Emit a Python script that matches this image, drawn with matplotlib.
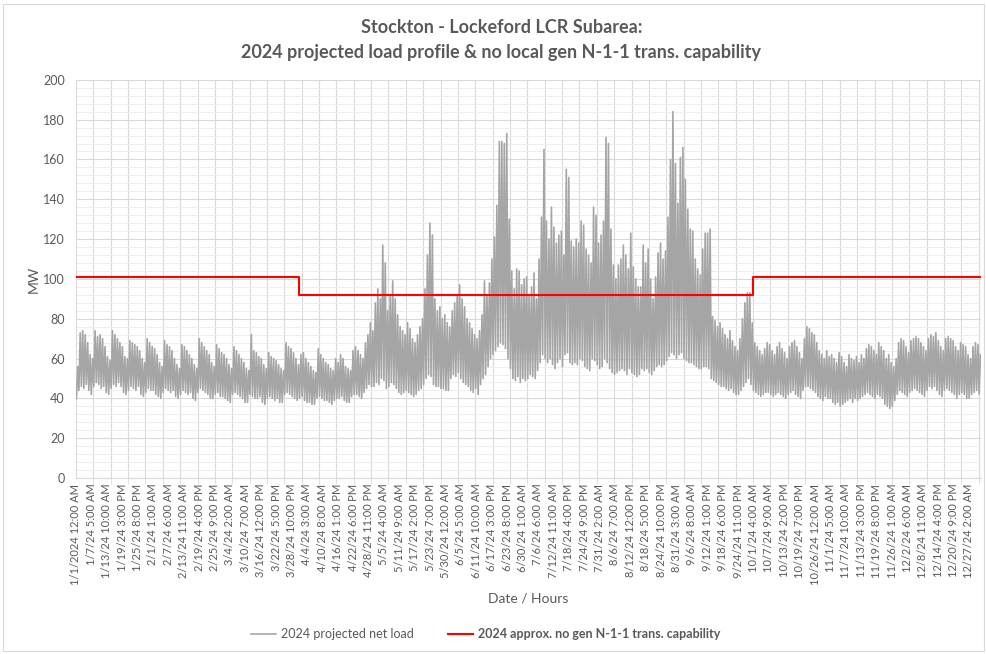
import matplotlib
matplotlib.use("Agg")
import matplotlib.pyplot as plt
import numpy as np

# Daily peak / trough of the projected net load (MW)
jan_peak = [56, 73, 74, 72, 68, 62, 60, 74, 71, 72, 70, 66, 61, 59, 74, 72, 70, 68, 66, 61, 60,
            69, 68, 67, 66, 64, 60, 58, 70, 68, 66]
jan_low = [40, 44, 46, 45, 47, 44, 42, 46, 48, 47, 45, 46, 43, 42, 45, 47, 46, 48, 46, 43, 42,
           44, 46, 45, 44, 46, 42, 41, 43, 45, 44]
feb_peak = [65, 62, 58, 56, 69, 67, 66, 64, 60, 57, 55, 67, 66, 64, 62, 60, 57, 55, 70, 68, 66,
            64, 62, 58, 56, 67, 65, 63]
feb_low = [44, 42, 41, 40, 43, 45, 44, 43, 44, 41, 40, 42, 44, 43, 42, 43, 40, 39, 43, 45, 44,
           43, 42, 40, 40, 42, 43, 41]
mar_peak = [62, 60, 57, 55, 66, 64, 62, 60, 58, 55, 54, 72, 64, 63, 61, 60, 57, 55, 63, 61, 60,
            59, 57, 55, 54, 68, 66, 65, 63, 60, 57]
mar_low = [41, 40, 39, 38, 42, 43, 42, 41, 40, 38, 38, 42, 41, 40, 40, 41, 38, 37, 40, 41, 40,
           39, 40, 38, 38, 42, 43, 42, 41, 40, 39]
apr_peak = [62, 63, 60, 58, 56, 54, 53, 65, 62, 60, 58, 57, 55, 54, 60, 58, 62, 60, 56, 55, 54,
            64, 66, 64, 62, 60, 68, 72, 78, 74]
apr_low = [40, 41, 39, 38, 38, 37, 37, 40, 41, 40, 39, 39, 38, 37, 39, 40, 40, 41, 39, 38, 38,
           41, 42, 42, 41, 40, 43, 45, 47, 46]
may_peak = [88, 95, 90, 117, 108, 84, 92, 99, 90, 82, 76, 74, 72, 78, 75, 70, 68, 72, 76, 80,
            95, 112, 128, 122, 90, 84, 86, 80, 82, 78, 76]
may_low = [46, 48, 47, 50, 49, 45, 46, 48, 47, 45, 43, 42, 43, 44, 43, 42, 41, 42, 44, 45,
           47, 50, 52, 51, 47, 46, 46, 45, 45, 44, 44]
jun_peak = [84, 88, 92, 97, 90, 86, 80, 78, 75, 72, 70, 74, 82, 99, 92, 98, 110, 121, 137, 169,
            169, 168, 173, 130, 104, 95, 105, 104, 97, 100]
jun_low = [50, 52, 51, 53, 50, 48, 47, 46, 44, 43, 45, 42, 47, 50, 52, 56, 60, 62, 64, 66,
           68, 67, 65, 60, 55, 50, 49, 51, 48, 50]
jul_peak = [101, 92, 96, 103, 90, 110, 131, 165, 129, 120, 136, 126, 118, 122, 124, 112, 155,
            151, 119, 116, 120, 118, 129, 127, 115, 112, 108, 136, 132, 118, 122]
jul_low = [49, 50, 52, 51, 50, 54, 58, 62, 60, 58, 60, 57, 55, 58, 60, 56, 62, 63, 58, 57,
           58, 57, 60, 59, 56, 55, 54, 60, 59, 57, 55]
aug_peak = [129, 171, 168, 125, 107, 100, 107, 110, 117, 112, 105, 123, 106, 100, 96, 96, 117,
            108, 115, 100, 90, 101, 113, 118, 110, 114, 131, 160, 184, 158, 138]
aug_low = [56, 60, 58, 55, 53, 52, 53, 54, 55, 54, 52, 55, 53, 52, 51, 52, 55, 54, 55, 53,
           52, 54, 56, 57, 56, 57, 59, 61, 63, 62, 60]
sep_peak = [161, 166, 150, 135, 125, 124, 110, 105, 102, 115, 123, 123, 125, 81, 79, 76, 78,
            75, 72, 70, 74, 69, 66, 64, 70, 80, 88, 93, 93, 78]
sep_low = [62, 63, 60, 59, 58, 58, 57, 56, 55, 55, 56, 56, 55, 50, 49, 48, 47, 46, 46, 45,
           44, 45, 43, 42, 42, 44, 46, 48, 50, 47]
oct_peak = [68, 66, 64, 62, 65, 68, 67, 64, 62, 66, 68, 65, 63, 60, 66, 68, 69, 66, 63, 60,
            70, 76, 75, 73, 72, 68, 64, 62, 60, 64, 61]
oct_low = [44, 43, 42, 41, 42, 43, 43, 42, 41, 42, 43, 42, 41, 40, 42, 43, 44, 42, 41, 40,
           44, 46, 46, 45, 44, 43, 41, 40, 39, 41, 40]
nov_peak = [62, 60, 58, 63, 61, 58, 56, 62, 60, 59, 61, 58, 62, 60, 65, 67, 66, 64, 62, 68,
            66, 64, 60, 62, 58, 56, 60, 68, 70, 69]
nov_low = [40, 38, 37, 38, 36, 37, 38, 39, 40, 38, 40, 39, 40, 41, 42, 43, 42, 41, 40, 42,
           41, 40, 37, 36, 35, 36, 39, 42, 44, 43]
dec_peak = [66, 63, 69, 70, 71, 70, 68, 66, 64, 70, 72, 71, 73, 69, 66, 64, 70, 71, 70, 69,
            66, 64, 68, 67, 66, 62, 60, 66, 68, 67, 62]
dec_low = [42, 41, 43, 44, 45, 44, 43, 42, 41, 44, 46, 45, 46, 44, 42, 41, 44, 45, 44, 43,
           42, 40, 42, 43, 42, 40, 40, 42, 43, 44, 42]

# N-1-1 transmission capability (MW) and the day-of-year each level starts
cap_values = [101, 92, 101]
cap_start_days = [0, 90, 273]   # 1/1, 4/1, 10/1

# category labels shown on the x axis (every 149 hours)
tick_labels = [
    "1/1/2024 12:00 AM", "1/7/24 5:00 AM", "1/13/24 10:00 AM", "1/19/24 3:00 PM",
    "1/25/24 8:00 PM", "2/1/24 1:00 AM", "2/7/24 6:00 AM", "2/13/24 11:00 AM",
    "2/19/24 4:00 PM", "2/25/24 9:00 PM", "3/4/24 2:00 AM", "3/10/24 7:00 AM",
    "3/16/24 12:00 PM", "3/22/24 5:00 PM", "3/28/24 10:00 PM", "4/4/24 3:00 AM",
    "4/10/24 8:00 AM", "4/16/24 1:00 PM", "4/22/24 6:00 PM", "4/28/24 11:00 PM",
    "5/5/24 4:00 AM", "5/11/24 9:00 AM", "5/17/24 2:00 PM", "5/23/24 7:00 PM",
    "5/30/24 12:00 AM", "6/5/24 5:00 AM", "6/11/24 10:00 AM", "6/17/24 3:00 PM",
    "6/23/24 8:00 PM", "6/30/24 1:00 AM", "7/6/24 6:00 AM", "7/12/24 11:00 AM",
    "7/18/24 4:00 PM", "7/24/24 9:00 PM", "7/31/24 2:00 AM", "8/6/24 7:00 AM",
    "8/12/24 12:00 PM", "8/18/24 5:00 PM", "8/24/24 10:00 PM", "8/31/24 3:00 AM",
    "9/6/24 8:00 AM", "9/12/24 1:00 PM", "9/18/24 6:00 PM", "9/24/24 11:00 PM",
    "10/1/24 4:00 AM", "10/7/24 9:00 AM", "10/13/24 2:00 PM", "10/19/24 7:00 PM",
    "10/26/24 12:00 AM", "11/1/24 5:00 AM", "11/7/24 10:00 AM", "11/13/24 3:00 PM",
    "11/19/24 8:00 PM", "11/26/24 1:00 AM", "12/2/24 6:00 AM", "12/8/24 11:00 AM",
    "12/14/24 4:00 PM", "12/20/24 9:00 PM", "12/27/24 2:00 AM",
]

peaks = np.array(jan_peak + feb_peak + mar_peak + apr_peak + may_peak + jun_peak +
                 jul_peak + aug_peak + sep_peak + oct_peak + nov_peak + dec_peak)
lows = np.array(jan_low + feb_low + mar_low + apr_low + may_low + jun_low +
                jul_low + aug_low + sep_low + oct_low + nov_low + dec_low)
n_hours = 24 * len(peaks)

# one trough (early morning) and one peak (late afternoon) per day
day_start = np.arange(len(peaks)) * 24
load_x = np.column_stack([day_start + 4, day_start + 17]).ravel()
load_y = np.column_stack([lows, peaks]).ravel()

cap_x = [d * 24 for d in cap_start_days] + [n_hours - 1]
cap_y = cap_values + [cap_values[-1]]

text_col = "#595959"
plt.rcParams["font.family"] = ["Lato", "DejaVu Sans"]

fig = plt.figure(figsize=(9.87, 6.54), dpi=100)
ax = fig.add_axes([0.077, 0.269, 0.917, 0.609])

ax.plot(load_x, load_y, color="#a5a5a5", lw=1.2, label="2024 projected net load", zorder=3)
ax.plot(cap_x, cap_y, color="#ff0000", lw=1.5, drawstyle="steps-post",
        label="2024 approx. no gen N-1-1 trans. capability", zorder=4)

ax.set_xlim(0, n_hours - 1)
ax.set_ylim(0, 200)

# y axis: major grid every 20, light minor grid every 4
ax.set_yticks(np.arange(0, 201, 20))
ax.set_yticks(np.arange(0, 201, 4), minor=True)
ax.grid(axis="y", which="major", color="#d9d9d9", lw=0.8, zorder=0)
ax.grid(axis="y", which="minor", color="#eeeeee", lw=0.7, zorder=0)

# x axis: labels every 149 h, ticks + vertical grid every 168 h
ax.set_xticks(np.arange(len(tick_labels)) * 149)
ax.set_xticklabels(tick_labels, rotation=90, fontsize=8, color=text_col)
ax.set_xticks(np.arange(0, n_hours, 168), minor=True)
ax.grid(axis="x", which="minor", color="#d9d9d9", lw=0.8, zorder=0)
ax.tick_params(axis="x", which="major", length=0, pad=4)
ax.tick_params(axis="x", which="minor", length=4, color="#d9d9d9")
ax.tick_params(axis="y", which="both", length=0, labelsize=9, labelcolor=text_col, pad=8)

for s in ["top", "right"]:
    ax.spines[s].set_visible(False)
ax.spines["left"].set_color("#d9d9d9")
ax.spines["bottom"].set_color("#d9d9d9")

ax.set_ylabel("MW", fontsize=10, color=text_col, labelpad=2)
ax.set_xlabel("Date / Hours", fontsize=10, color=text_col, labelpad=6)

fig.text(0.508, 0.958, "Stockton - Lockeford LCR Subarea:", ha="center", va="center",
         fontsize=13, fontweight="bold", color=text_col)
fig.text(0.508, 0.919, "2024 projected load profile & no local gen N-1-1 trans. capability",
         ha="center", va="center", fontsize=13, fontweight="bold", color=text_col)

leg = fig.legend(loc="center", bbox_to_anchor=(0.492, 0.030), ncol=2, frameon=False,
                 fontsize=9, handlelength=2.0, handletextpad=0.4, columnspacing=2.8)
for t in leg.get_texts():
    t.set_color(text_col)
leg.get_texts()[1].set_fontweight("bold")

# light chart-area border
fig.patches.append(plt.Rectangle((0.003, 0.004), 0.994, 0.99, transform=fig.transFigure,
                                 fill=False, edgecolor="#d9d9d9", lw=0.8))

fig.savefig("out.png", dpi=100)
